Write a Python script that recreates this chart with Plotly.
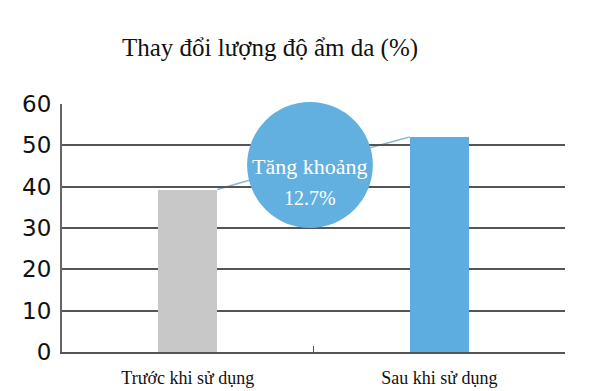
import plotly.graph_objects as go

categories = ["Trước khi sử dụng", "Sau khi sử dụng"]
values = [39.3, 52.0]
bar_colors = ["#c8c8c8", "#5dade0"]
y_ticks = [0, 10, 20, 30, 40, 50, 60]
title_text = "Thay đổi lượng độ ẩm da (%)"
bubble_lines = ["Tăng khoảng", "12.7%"]

OFF = 8  # default page body margin
W, H = 600 - OFF, 391 - OFF
L, T = 62 - OFF, 104 - OFF
R = W - (565 - OFF)
B = H - (352 - OFF)
bar_w = 0.235

fig = go.Figure()
fig.add_trace(go.Bar(
    x=categories, y=values, width=bar_w,
    marker=dict(color=bar_colors, line=dict(width=0)),
    hoverinfo="skip",
))

# connector lines (data coords: category index / value)
fig.add_shape(type="line", xref="x", yref="y",
              x0=0 + bar_w / 2, y0=values[0], x1=0.2475, y1=41.6,
              line=dict(color="#8ab8cf", width=1.5), layer="below")
fig.add_shape(type="line", xref="x", yref="y",
              x0=0.7247, y0=49.4, x1=1 - bar_w / 2, y1=values[1],
              line=dict(color="#8ab8cf", width=1.5), layer="below")

# bubble
fig.add_shape(type="circle", xref="paper", yref="paper",
              x0=0.368, x1=0.618, y0=0.500, y1=1.008,
              fillcolor="#62b0e0", line=dict(width=0), layer="above")

fig.add_annotation(xref="paper", yref="paper", x=0.493, y=(352 - 152) / 248,
                   text=bubble_lines[0], showarrow=False,
                   font=dict(family="Liberation Serif", size=22, color="white"))
fig.add_annotation(xref="paper", yref="paper", x=0.493, y=(352 - 185) / 248,
                   text=bubble_lines[1], showarrow=False,
                   font=dict(family="Liberation Serif", size=20, color="white"))

fig.update_layout(
    width=W, height=H,
    margin=dict(l=L, r=R, t=T, b=B, pad=0, autoexpand=False),
    paper_bgcolor="white", plot_bgcolor="white",
    showlegend=False,
    bargap=0,
    title=dict(text=title_text, x=(270 - OFF) / W, xanchor="center",
               y=1 - (47 - OFF) / H, yanchor="middle", automargin=False,
               font=dict(family="Liberation Serif", size=25, color="#111")),
    xaxis=dict(
        type="category", range=[-0.5, 1.5], automargin=False,
        showline=True, linecolor="#555", linewidth=2,
        ticks="inside", tickson="boundaries", ticklen=6, tickcolor="#555", tickwidth=1,
        showgrid=False,
        tickfont=dict(family="Liberation Serif", size=18, color="#111"),
        ticklabelstandoff=8,
    ),
    yaxis=dict(
        range=[0, 60], tickvals=y_ticks, automargin=False,
        showline=True, linecolor="#666", linewidth=2,
        showgrid=True, gridcolor="#555", gridwidth=1.5,
        zeroline=False, ticks="",
        tickfont=dict(family="DejaVu Sans", size=23, color="#111"),
        ticklabelstandoff=4,
    ),
)

fig.write_html("out.html")
